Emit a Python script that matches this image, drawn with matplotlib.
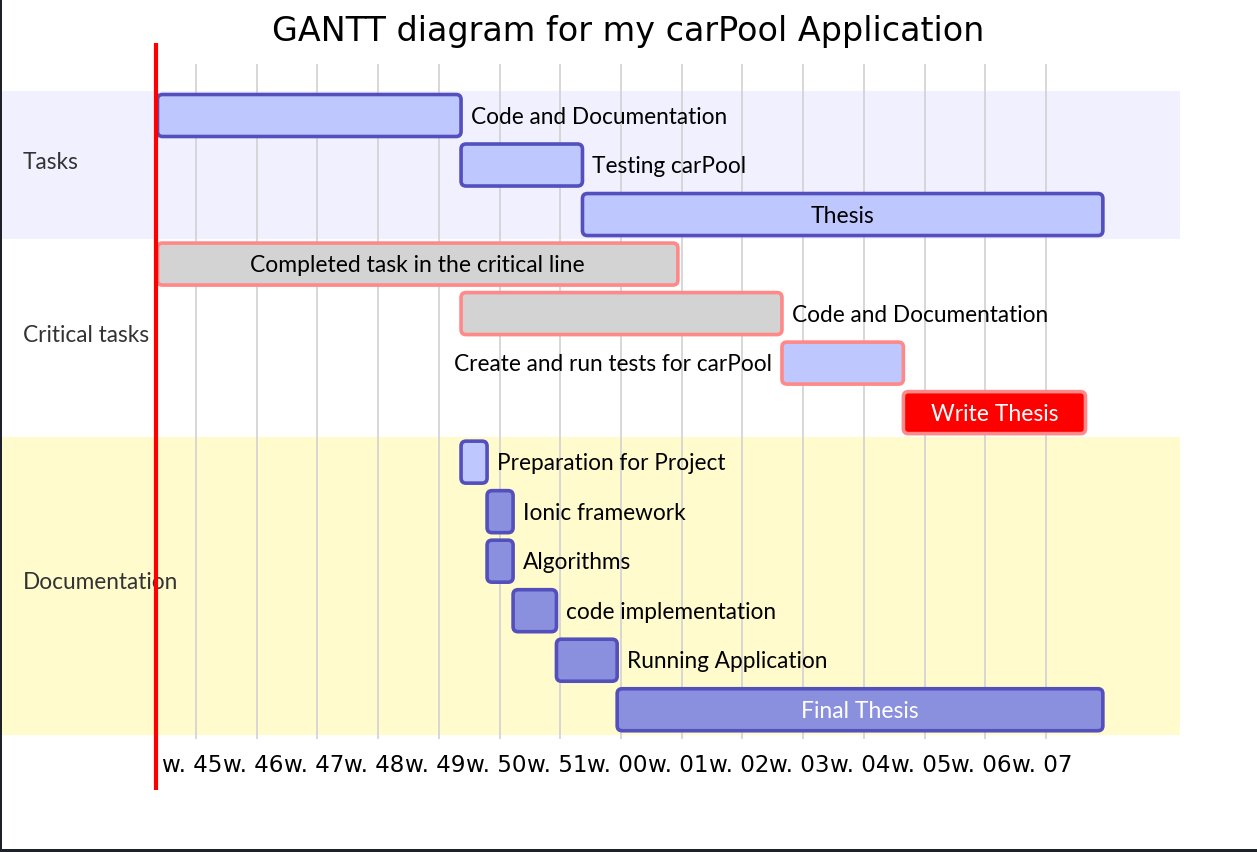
import matplotlib
matplotlib.use("Agg")
import matplotlib.pyplot as plt
from matplotlib.patches import FancyBboxPatch, Rectangle
import matplotlib.transforms as mtransforms

plt.rcParams['font.family'] = ['Lato', 'DejaVu Sans']

# ---------------- data ----------------
title = "GANTT diagram for my carPool Application"
sections = ["Tasks", "Critical tasks", "Documentation"]
section_rows = [3, 4, 6]
task_names = ["Code and Documentation", "Testing carPool", "Thesis",
              "Completed task in the critical line", "Code and Documentation",
              "Create and run tests for carPool", "Write Thesis",
              "Preparation for Project", "Ionic framework", "Algorithms",
              "code implementation", "Running Application", "Final Thesis"]
task_start = [0, 35, 49, 0, 35, 72, 86, 35, 38, 38, 41, 46, 53]   # day offset
task_days = [35, 14, 60, 60, 37, 14, 21, 3, 3, 3, 5, 7, 56]       # duration in days
task_status = ["active", "active", "active", "doneCrit", "doneCrit", "activeCrit",
               "crit", "active", "task", "task", "task", "task", "task"]
week_labels = ["w. 45", "w. 46", "w. 47", "w. 48", "w. 49", "w. 50", "w. 51",
               "w. 00", "w. 01", "w. 02", "w. 03", "w. 04", "w. 05", "w. 06", "w. 07"]
first_week_day = 4.44   # day offset of first week tick
today_day = -0.17

# ---------------- styles ----------------
label_pos = ["right", "right", "inside", "inside", "right", "left", "inside",
             "right", "right", "right", "right", "right", "inside"]
W, H = 1257, 852
px_per_day = 8.673
px_per_row = 49.52
x0_px = 157.5
y0_px = 115.5

fill = {"active": "#bfc7ff", "task": "#8a90dd", "doneCrit": "#d3d3d3",
        "activeCrit": "#bfc7ff", "crit": "#ff0000"}
edge = {"active": "#534fbc", "task": "#534fbc", "doneCrit": "#ff8888",
        "activeCrit": "#ff8888", "crit": "#ff8888"}
inner_text = {"active": "black", "task": "white", "doneCrit": "black",
              "activeCrit": "black", "crit": "white"}
section_colors = ["#f0f0ff", "#ffffff", "#fffbcc"]

fig = plt.figure(figsize=(W / 100, H / 100), dpi=100)
ax = fig.add_axes([0, 0, 1, 1])
ax.set_xlim(-x0_px / px_per_day, (W - x0_px) / px_per_day)
ax.set_ylim((H - y0_px) / px_per_row, -y0_px / px_per_row)
ax.axis("off")


def px2row(py):
    return (py - y0_px) / px_per_row


# section backgrounds
blend = mtransforms.blended_transform_factory(ax.transAxes, ax.transData)
r = 0
for name, n, col in zip(sections, section_rows, section_colors):
    ax.add_patch(Rectangle((2 / W, r - 0.5), (1180 - 2) / W, n, transform=blend,
                           facecolor=col, edgecolor="none", zorder=0))
    ax.text(23 / W, r + (n - 1) / 2 - 0.06, name, transform=blend, ha="left",
            va="center", fontsize=16.3, color="#333333", zorder=5)
    r += n

# grid + week ticks
tick_days = [first_week_day + 7 * i for i in range(len(week_labels))]
ax.vlines(tick_days, px2row(64), px2row(739), colors="#d3d3d3", alpha=0.9,
          linewidth=1.4, zorder=1)
for d, lab in zip(tick_days, week_labels):
    ax.text(d - 0.4, px2row(765), lab, ha="center", va="center", fontsize=16.6,
            family="DejaVu Sans", color="black", zorder=5)

# bars
dy = 1.5 / px_per_row
for i, (name, s, d, st, pos) in enumerate(zip(task_names, task_start, task_days,
                                               task_status, label_pos)):
    h = 42 / px_per_row
    p = FancyBboxPatch((s, i - h / 2), d, h,
                       boxstyle="round,pad=0,rounding_size=%f" % (5 / px_per_day),
                       mutation_aspect=px_per_day / px_per_row,
                       facecolor=fill[st], edgecolor=edge[st], linewidth=2.6, zorder=3)
    ax.add_patch(p)
    if pos == "inside":
        ax.text(s + d / 2, i + dy, name, ha="center", va="center", fontsize=16.5,
                color=inner_text[st], zorder=5)
    elif pos == "right":
        ax.text(s + d + 10 / px_per_day, i + dy, name, ha="left", va="center",
                fontsize=16.3, color="black", zorder=5)
    else:
        ax.text(s - 10 / px_per_day, i + dy, name, ha="right", va="center",
                fontsize=16.3, color="black", zorder=5)

# today marker
ax.vlines([today_day], px2row(43), px2row(790), colors="#ff0000", linewidth=3, zorder=6)

# title
ax.text(0.5, px2row(32), title, transform=blend, ha="center", va="center",
        fontsize=24, family="DejaVu Sans", color="black")

# frame borders (left & bottom dark edge)
fig.patches.append(Rectangle((0, 0), 2 / W, 1, transform=fig.transFigure,
                             facecolor="#1e2228", edgecolor="none", zorder=10))
fig.patches.append(Rectangle((0, 0), 1, 3 / H, transform=fig.transFigure,
                             facecolor="#1e2228", edgecolor="none", zorder=10))

fig.savefig("out.png", dpi=100)
